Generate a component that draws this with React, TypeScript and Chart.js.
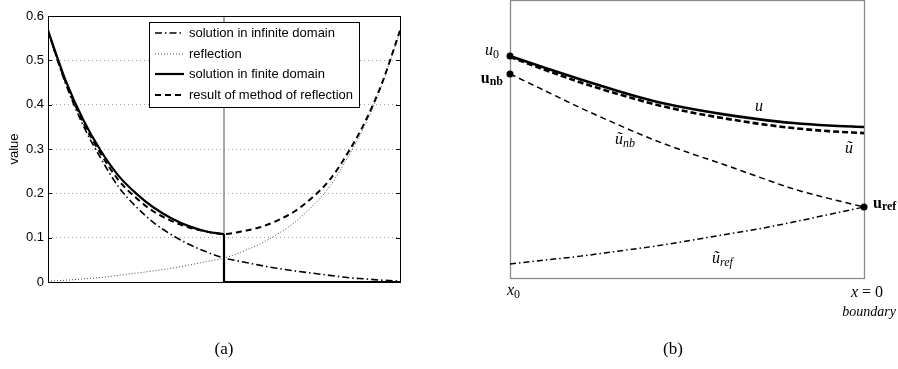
import React, { useEffect, useRef } from "react";
import { Chart, registerables } from "chart.js";
Chart.register(...registerables);

// ---------- Panel (a) data ----------
const xA = [-1, -0.9, -0.8, -0.7, -0.6, -0.5, -0.4, -0.3, -0.2, -0.1, 0, 0.1, 0.2, 0.3, 0.4, 0.5, 0.6, 0.7, 0.8, 0.9, 1];
const infiniteDomain = [0.565, 0.447, 0.353, 0.279, 0.215, 0.17, 0.134, 0.107, 0.085, 0.068, 0.054, 0.046, 0.038, 0.031, 0.025, 0.02, 0.015, 0.01, 0.007, 0.004, 0.002];
const reflection = [0.002, 0.004, 0.007, 0.01, 0.015, 0.02, 0.025, 0.031, 0.038, 0.046, 0.054, 0.068, 0.085, 0.107, 0.134, 0.17, 0.215, 0.279, 0.353, 0.447, 0.565];
const methodOfReflection = [0.567, 0.451, 0.36, 0.289, 0.23, 0.19, 0.159, 0.138, 0.123, 0.114, 0.108, 0.114, 0.123, 0.138, 0.159, 0.19, 0.23, 0.289, 0.36, 0.451, 0.567];
const finiteX = [-1, -0.9, -0.8, -0.7, -0.6, -0.5, -0.4, -0.3, -0.2, -0.1, 0];
const finiteDomain = [0.567, 0.455, 0.366, 0.296, 0.24, 0.2, 0.168, 0.144, 0.126, 0.114, 0.108];
const finiteTailX = [0, 0, 1];
const finiteTail = [0.108, 0, 0];
const boundaryX = [0, 0];
const boundaryY = [0, 0.6];
const yTicksA = [0, 0.1, 0.2, 0.3, 0.4, 0.5, 0.6];
const yTickLabelsA = ["0", "0.1", "0.2", "0.3", "0.4", "0.5", "0.6"];
const legendLabelsA = [
  "solution in infinite domain",
  "reflection",
  "solution in finite domain",
  "result of method of reflection",
];

// ---------- Panel (b) data ----------
const xB = [0, 0.1, 0.2, 0.3, 0.4, 0.5, 0.6, 0.7, 0.8, 0.9, 1];
const uExact = [0.799, 0.756, 0.715, 0.676, 0.64, 0.613, 0.591, 0.573, 0.559, 0.55, 0.545];
const uTilde = [0.796, 0.749, 0.704, 0.665, 0.629, 0.6, 0.577, 0.557, 0.541, 0.53, 0.523];
const uTildeNb = [0.735, 0.674, 0.613, 0.556, 0.502, 0.455, 0.412, 0.367, 0.323, 0.289, 0.258];
const uTildeRef = [0.054, 0.068, 0.082, 0.099, 0.116, 0.136, 0.158, 0.179, 0.204, 0.231, 0.258];
const markerX = [0, 0, 1];
const markerY = [0.799, 0.735, 0.258];

const SANS = '"Liberation Sans", Arial, sans-serif';
const SERIF = '"Liberation Serif", "Times New Roman", serif';

const pts = (xs: number[], ys: number[]) => xs.map((x, i) => ({ x, y: ys[i] }));

type Part = { t: string; f: string; dy?: number };
function drawMath(ctx: CanvasRenderingContext2D, x: number, y: number, parts: Part[], align: "left" | "right" | "center" = "left") {
  ctx.textAlign = "left";
  ctx.textBaseline = "alphabetic";
  let w = 0;
  for (const p of parts) {
    ctx.font = p.f;
    w += ctx.measureText(p.t).width;
  }
  let cx = align === "left" ? x : align === "right" ? x - w : x - w / 2;
  for (const p of parts) {
    ctx.font = p.f;
    ctx.fillText(p.t, cx, y + (p.dy || 0));
    cx += ctx.measureText(p.t).width;
  }
}

const panelAPlugin = {
  id: "panelA",
  afterDatasetsDraw(chart: any) {
    const { ctx, chartArea: a, scales } = chart;
    const ys = scales.y;
    ctx.save();
    // frame
    ctx.strokeStyle = "#000";
    ctx.lineWidth = 1;
    ctx.setLineDash([]);
    ctx.strokeRect(a.left + 0.5, a.top + 0.5, a.right - a.left, a.bottom - a.top);
    // inward ticks
    ctx.beginPath();
    for (const v of yTicksA) {
      const py = Math.round(ys.getPixelForValue(v)) + 0.5;
      ctx.moveTo(a.left, py);
      ctx.lineTo(a.left + 4, py);
      ctx.moveTo(a.right, py);
      ctx.lineTo(a.right - 4, py);
    }
    ctx.stroke();
    // legend
    const bx = a.left + 101;
    const by = a.top + 6;
    const bw = 210;
    const bh = 85;
    ctx.fillStyle = "#fff";
    ctx.fillRect(bx, by, bw, bh);
    ctx.strokeStyle = "#000";
    ctx.lineWidth = 1;
    ctx.strokeRect(bx + 0.5, by + 0.5, bw, bh);
    const rows = [11, 32, 52, 73];
    const styles = [
      { c: "#000", w: 1.6, d: [7, 3, 1.5, 3] },
      { c: "#444", w: 1, d: [1, 2] },
      { c: "#000", w: 2.2, d: [] as number[] },
      { c: "#000", w: 2, d: [6, 4] },
    ];
    ctx.font = `13px ${SANS}`;
    ctx.textBaseline = "middle";
    ctx.textAlign = "left";
    legendLabelsA.forEach((lab, i) => {
      const yy = by + rows[i];
      const s = styles[i];
      ctx.beginPath();
      ctx.strokeStyle = s.c;
      ctx.lineWidth = s.w;
      ctx.setLineDash(s.d);
      ctx.moveTo(bx + 6, yy);
      ctx.lineTo(bx + 35, yy);
      ctx.stroke();
      ctx.fillStyle = "#000";
      ctx.fillText(lab, bx + 40, yy);
    });
    ctx.setLineDash([]);
    // caption
    ctx.fillStyle = "#000";
    drawMath(ctx, (a.left + a.right) / 2, 354, [{ t: "(a)", f: `17px ${SERIF}` }], "center");
    ctx.restore();
  },
};

const panelBPlugin = {
  id: "panelB",
  beforeDatasetsDraw(chart: any) {
    const { ctx, chartArea: a } = chart;
    ctx.save();
    ctx.strokeStyle = "#8a8a8a";
    ctx.lineWidth = 1.3;
    ctx.strokeRect(a.left + 0.5, a.top + 0.5, a.right - a.left, a.bottom - a.top - 1);
    ctx.restore();
  },
  afterDatasetsDraw(chart: any) {
    const { ctx } = chart;
    ctx.save();
    ctx.fillStyle = "#000";
    const it = `italic 16px ${SERIF}`;
    const itS = `italic 12px ${SERIF}`;
    const rm = `16px ${SERIF}`;
    const rmS = `12px ${SERIF}`;
    const bf = `bold 16px ${SERIF}`;
    const bfS = `bold 12px ${SERIF}`;
    drawMath(ctx, 49, 55, [{ t: "u", f: it }, { t: "0", f: rmS, dy: 3 }], "right");
    drawMath(ctx, 53, 83, [{ t: "u", f: bf }, { t: "nb", f: bfS, dy: 2 }], "right");
    drawMath(ctx, 305, 111, [{ t: "u", f: it }]);
    drawMath(ctx, 395, 153, [{ t: "ũ", f: it }]);
    drawMath(ctx, 165, 144, [{ t: "ũ", f: it }, { t: "nb", f: itS, dy: 3 }]);
    drawMath(ctx, 423, 208, [{ t: "u", f: bf }, { t: "ref", f: bfS, dy: 2 }]);
    drawMath(ctx, 262, 263, [{ t: "ũ", f: it }, { t: "ref", f: itS, dy: 3 }]);
    drawMath(ctx, 57, 295, [{ t: "x", f: it }, { t: "0", f: rmS, dy: 3 }]);
    drawMath(ctx, 433, 297, [{ t: "x", f: it }, { t: " = 0", f: rm }], "right");
    drawMath(ctx, 446, 316, [{ t: "boundary", f: `italic 14px ${SERIF}` }], "right");
    drawMath(ctx, 223, 354, [{ t: "(b)", f: `17px ${SERIF}` }], "center");
    ctx.restore();
  },
};

export default function App() {
  const refA = useRef<HTMLCanvasElement>(null);
  const refB = useRef<HTMLCanvasElement>(null);

  useEffect(() => {
    document.body.style.margin = "0";
    const chartA = new Chart(refA.current!, {
      type: "line",
      data: {
        datasets: [
          {
            label: legendLabelsA[2],
            data: pts(finiteX, finiteDomain),
            borderColor: "#000",
            borderWidth: 2.2,
            pointRadius: 0,
            cubicInterpolationMode: "monotone",
          },
          {
            label: "finite tail",
            data: pts(finiteTailX, finiteTail),
            borderColor: "#000",
            borderWidth: 2.2,
            pointRadius: 0,
            tension: 0,
            clip: false,
          },
          {
            label: legendLabelsA[3],
            data: pts(xA, methodOfReflection),
            borderColor: "#000",
            borderWidth: 2,
            borderDash: [6, 4],
            pointRadius: 0,
            cubicInterpolationMode: "monotone",
          },
          {
            label: legendLabelsA[0],
            data: pts(xA, infiniteDomain),
            borderColor: "#000",
            borderWidth: 1.6,
            borderDash: [7, 3, 1.5, 3],
            pointRadius: 0,
            cubicInterpolationMode: "monotone",
          },
          {
            label: legendLabelsA[1],
            data: pts(xA, reflection),
            borderColor: "#444",
            borderWidth: 1,
            borderDash: [1, 2],
            pointRadius: 0,
            cubicInterpolationMode: "monotone",
          },
          {
            label: "boundary",
            data: pts(boundaryX, boundaryY),
            borderColor: "#888",
            borderWidth: 1.5,
            pointRadius: 0,
            tension: 0,
          },
        ],
      } as any,
      options: {
        animation: false,
        responsive: false,
        events: [],
        layout: { autoPadding: false, padding: { top: 16, right: 50, bottom: 87, left: 0 } },
        plugins: { legend: { display: false }, tooltip: { enabled: false } },
        scales: {
          x: { type: "linear", min: -1, max: 1, display: false },
          y: {
            type: "linear",
            min: 0,
            max: 0.6,
            afterFit: (s: any) => {
              s.width = 48;
            },
            afterBuildTicks: (s: any) => {
              s.ticks = yTicksA.map((v) => ({ value: v }));
            },
            ticks: {
              font: { family: SANS, size: 13 },
              color: "#000",
              padding: 4,
              callback: (_v: any, i: number) => yTickLabelsA[i],
            },
            grid: { color: "#a0a0a0", drawTicks: false, lineWidth: 1 },
            border: { display: false, dash: [1, 3] },
            title: {
              display: true,
              text: "value",
              color: "#000",
              font: { family: SANS, size: 13 },
              padding: { top: 7, bottom: 0 },
            },
          },
        },
      } as any,
      plugins: [panelAPlugin],
    });

    const chartB = new Chart(refB.current!, {
      type: "line",
      data: {
        datasets: [
          {
            label: "markers",
            data: pts(markerX, markerY),
            showLine: false,
            pointRadius: 3.5,
            pointBackgroundColor: "#000",
            pointBorderColor: "#000",
            pointBorderWidth: 0,
            clip: false,
          },
          {
            label: "u",
            data: pts(xB, uExact),
            borderColor: "#000",
            borderWidth: 2.6,
            pointRadius: 0,
            cubicInterpolationMode: "monotone",
          },
          {
            label: "ũ",
            data: pts(xB, uTilde),
            borderColor: "#000",
            borderWidth: 2.6,
            borderDash: [6, 3],
            pointRadius: 0,
            cubicInterpolationMode: "monotone",
          },
          {
            label: "ũ_nb",
            data: pts(xB, uTildeNb),
            borderColor: "#000",
            borderWidth: 1.5,
            borderDash: [6, 4],
            pointRadius: 0,
            cubicInterpolationMode: "monotone",
          },
          {
            label: "ũ_ref",
            data: pts(xB, uTildeRef),
            borderColor: "#000",
            borderWidth: 1.5,
            borderDash: [6, 3, 1.5, 3],
            pointRadius: 0,
            cubicInterpolationMode: "monotone",
          },
        ],
      } as any,
      options: {
        animation: false,
        responsive: false,
        events: [],
        layout: { autoPadding: false, padding: { top: 0, right: 34, bottom: 90, left: 60 } },
        plugins: { legend: { display: false }, tooltip: { enabled: false } },
        scales: {
          x: { type: "linear", min: 0, max: 1, display: false },
          y: { type: "linear", min: 0, max: 1, display: false },
        },
      } as any,
      plugins: [panelBPlugin],
    });

    return () => {
      chartA.destroy();
      chartB.destroy();
    };
  }, []);

  return (
    <div style={{ position: "relative", width: 898, height: 369, background: "#fff" }}>
      <canvas ref={refA} width={450} height={369} style={{ position: "absolute", left: 0, top: 0 }} />
      <canvas ref={refB} width={448} height={369} style={{ position: "absolute", left: 450, top: 0 }} />
    </div>
  );
}
